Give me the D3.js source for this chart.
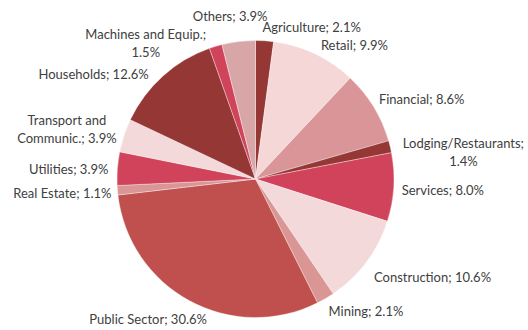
<!DOCTYPE html>
<html>
<head>
<meta charset="utf-8">
<script src="https://cdn.jsdelivr.net/npm/d3@7"></script>
<style>
  html, body { margin: 0; padding: 0; background: #fff; }
  svg { display: block; }
  text { font-family: Lato, "Open Sans", sans-serif; fill: #404040; }
</style>
</head>
<body>
<svg id="chart" width="528" height="330"></svg>
<script>
// Sector shares (percent), clockwise from 12 o'clock
const sectors = [
  "Agriculture", "Retail", "Financial", "Lodging/Restaurants", "Services",
  "Construction", "Mining", "Public Sector", "Real Estate", "Utilities",
  "Transport and Communic.", "Households", "Machines and Equip.", "Others"
];
const shares = [2.1, 9.9, 8.6, 1.4, 8.0, 10.6, 2.1, 30.6, 1.1, 3.9, 3.9, 12.6, 1.5, 3.9];
// Label lines shown beside each slice
const labelLines = [
  ["Agriculture;  2.1%"],
  ["Retail; 9.9%"],
  ["Financial; 8.6%"],
  ["Lodging/Restaurants;", "1.4%"],
  ["Services; 8.0%"],
  ["Construction; 10.6%"],
  ["Mining; 2.1%"],
  ["Public Sector; 30.6%"],
  ["Real Estate; 1.1%"],
  ["Utilities; 3.9%"],
  ["Transport and", "Communic.; 3.9%"],
  ["Households; 12.6%"],
  ["Machines and Equip.;", "1.5%"],
  ["Others; 3.9%"]
];
const sliceColors = [
  "#953735", "#F5D7D8", "#D99597", "#953735", "#D0435A",
  "#F4D9DA", "#D99694", "#C0504D", "#D99694", "#D0435A",
  "#F4D9DA", "#953735", "#D0435A", "#D9A6A7"
];

// Label placement: anchor side and nudge from the outside point of the slice
const labelPlacement = {
  "Agriculture":             { side: "start",  dx: -3, dy: -2 },
  "Retail":                  { side: "start",  dx: 1,  dy: 2 },
  "Financial":               { side: "start",  dx: -5, dy: -2 },
  "Lodging/Restaurants":     { side: "start",  dx: 1,  dy: 8 },
  "Services":                { side: "start",  dx: -4, dy: 2 },
  "Construction":            { side: "start",  dx: -2, dy: 8 },
  "Mining":                  { side: "start",  dx: -3, dy: 2 },
  "Public Sector":           { side: "end",    dx: 23, dy: 8 },
  "Real Estate":             { side: "end",    dx: 6,  dy: 2 },
  "Utilities":               { side: "end",    dx: 3,  dy: 1 },
  "Transport and Communic.": { side: "end",    dx: 4,  dy: -3 },
  "Households":              { side: "end",    dx: -6, dy: 7 },
  "Machines and Equip.":     { side: "end",    dx: -6, dy: 8 },
  "Others":                  { side: "middle", dx: -7, dy: -14 }
};

const svg = d3.select("#chart");
const cx = 255.5, cy = 179, radius = 138.5;
const fontSize = 13, lineHeight = 18, labelGap = 12;

const data = sectors.map((name, i) => ({ name, value: shares[i], color: sliceColors[i], lines: labelLines[i] }));

const pie = d3.pie().value(d => d.value).sort(null).startAngle(0).endAngle(2 * Math.PI);
const arc = d3.arc().innerRadius(0).outerRadius(radius);
const arcs = pie(data);

const g = svg.append("g").attr("transform", `translate(${cx},${cy})`);

g.selectAll("path.slice")
  .data(arcs)
  .join("path")
  .attr("class", "slice")
  .attr("d", arc)
  .attr("fill", d => d.data.color)
  .attr("stroke", "#fff")
  .attr("stroke-opacity", 0.6)
  .attr("stroke-width", 0.6);

// Data labels outside the pie
const labels = g.selectAll("g.label")
  .data(arcs)
  .join("g")
  .attr("class", "label");

labels.each(function (d) {
  const sel = d3.select(this);
  const mid = (d.startAngle + d.endAngle) / 2;
  const R = radius + labelGap;
  const place = labelPlacement[d.data.name];
  const px = R * Math.sin(mid) + place.dx;
  const py = -R * Math.cos(mid) + place.dy;
  const n = d.data.lines.length;

  const texts = sel.selectAll("text")
    .data(d.data.lines)
    .join("text")
    .attr("font-size", fontSize)
    .attr("dominant-baseline", "central")
    .attr("y", (_, i) => py + (i - (n - 1) / 2) * lineHeight)
    .text(t => t);

  if (n === 1) {
    texts.attr("text-anchor", place.side).attr("x", px);
  } else {
    // multi-line labels: lines centred within a block anchored on one side
    const widths = [];
    texts.each(function () { widths.push(this.getComputedTextLength()); });
    const w = d3.max(widths);
    let centerX = px;
    if (place.side === "start") centerX = px + w / 2;
    if (place.side === "end") centerX = px - w / 2;
    texts.attr("text-anchor", "middle").attr("x", centerX);
  }
});
</script>
</body>
</html>
